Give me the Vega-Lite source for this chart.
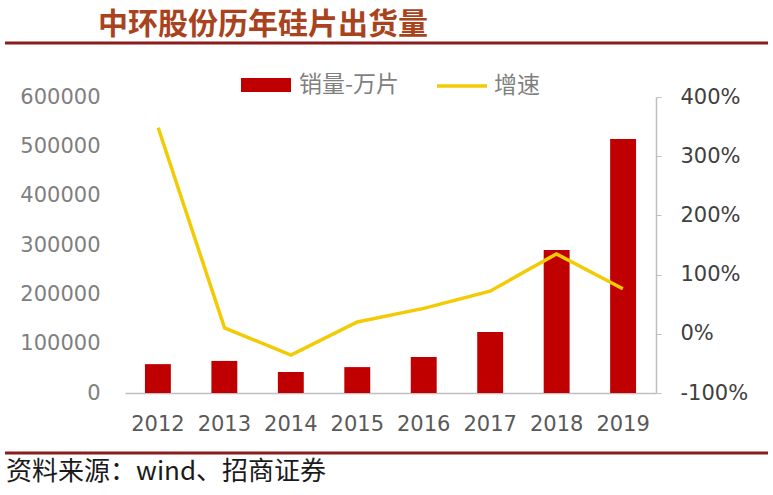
{
  "$schema": "https://vega.github.io/schema/vega-lite/v6.json",
  "width": 531,
  "height": 296,
  "autosize": {"type": "none"},
  "padding": {"left": 125, "top": 97, "right": 117, "bottom": 102},
  "background": "white",
  "config": {"view": {"stroke": null}, "font": "DejaVu Sans"},
  "data": {"values": [
    {"year": "2012", "sales": 58500, "growth": 3.48},
    {"year": "2013", "sales": 65000, "growth": 0.10},
    {"year": "2014", "sales": 42500, "growth": -0.36},
    {"year": "2015", "sales": 52500, "growth": 0.20},
    {"year": "2016", "sales": 73000, "growth": 0.43},
    {"year": "2017", "sales": 123500, "growth": 0.72},
    {"year": "2018", "sales": 290000, "growth": 1.35},
    {"year": "2019", "sales": 515000, "growth": 0.76}
  ]},
  "layer": [
    {
      "mark": {"type": "bar"},
      "encoding": {
        "x": {"field": "year", "type": "ordinal", "scale": {"paddingInner": 0.61, "paddingOuter": 0.3},
          "axis": {"title": null, "labelAngle": 0, "ticks": false, "domain": true, "domainColor": "#bfbfbf", "domainWidth": 1.5, "labelFontSize": 21, "labelColor": "#595959", "labelPadding": 20, "grid": false}},
        "y": {"field": "sales", "type": "quantitative", "scale": {"domain": [0, 600000], "nice": false},
          "axis": {"title": null, "values": [0, 100000, 200000, 300000, 400000, 500000, 600000], "format": "d", "ticks": false, "domain": false, "grid": false, "labelFontSize": 21, "labelColor": "#7f7f7f", "labelPadding": 25}},
        "color": {"datum": "销量-万片", "type": "nominal", "scale": {"range": ["#C00000"]},
          "legend": {"title": null, "orient": "none", "legendX": 115, "legendY": -38, "padding": 0, "symbolType": "M-1,-0.28H1V0.28H-1Z", "symbolSize": 2500, "symbolOpacity": 1, "labelOffset": 7, "labelFontSize": 23, "labelFont": "Noto Sans CJK SC", "labelColor": "#7f7f7f"}}
      }
    },
    {
      "mark": {"type": "line", "strokeWidth": 3.5},
      "encoding": {
        "x": {"field": "year", "type": "ordinal", "scale": {"paddingInner": 0.61, "paddingOuter": 0.3}, "axis": null},
        "y": {"field": "growth", "type": "quantitative", "scale": {"domain": [-1, 4], "nice": false, "zero": false},
          "axis": {"orient": "right", "title": null, "values": [-1, 0, 1, 2, 3, 4], "format": ".0%", "labelExpr": "replace(datum.label, '−', '-')", "grid": false, "domain": true, "domainColor": "#bfbfbf", "domainWidth": 1.5, "ticks": true, "tickColor": "#bfbfbf", "tickSize": 5, "labelPadding": 19, "labelFontSize": 21, "labelColor": "#404040"}},
        "stroke": {"datum": "增速", "type": "nominal", "scale": {"range": ["#F2CB05"]},
          "legend": {"title": null, "orient": "none", "legendX": 310, "legendY": -38, "padding": 0, "symbolType": "stroke", "symbolSize": 2500, "symbolStrokeWidth": 3.5, "labelOffset": 5, "labelFontSize": 23, "labelFont": "Noto Sans CJK SC", "labelColor": "#7f7f7f"}}
      }
    },
    {
      "data": {"values": [{}]},
      "layer": [
        {
          "mark": {"type": "rule", "color": "#8B1C1C", "strokeWidth": 3},
          "encoding": {
            "x": {"datum": -0.226, "type": "quantitative", "scale": {"domain": [0, 1], "nice": false, "zero": false}, "axis": null},
            "x2": {"datum": 1.211},
            "y": {"datum": 1.1824, "type": "quantitative", "scale": {"domain": [0, 1], "nice": false, "zero": false}, "axis": null}
          }
        },
        {
          "mark": {"type": "rule", "color": "#8B1C1C", "strokeWidth": 3},
          "encoding": {
            "x": {"datum": -0.226, "type": "quantitative"},
            "x2": {"datum": 1.211},
            "y": {"datum": -0.2027, "type": "quantitative"}
          }
        },
        {
          "mark": {"type": "text", "text": "中环股份历年硅片出货量", "align": "left", "baseline": "middle", "font": "Noto Sans CJK SC", "fontSize": 30, "fontWeight": "bold", "color": "#A8431E"},
          "encoding": {
            "x": {"datum": -0.051, "type": "quantitative"},
            "y": {"datum": 1.2432, "type": "quantitative"}
          }
        },
        {
          "mark": {"type": "text", "text": "资料来源：wind、招商证券", "align": "left", "baseline": "middle", "font": "Noto Sans CJK SC", "fontSize": 26, "color": "#1a1a1a"},
          "encoding": {
            "x": {"datum": -0.224, "type": "quantitative"},
            "y": {"datum": -0.2669, "type": "quantitative"}
          }
        }
      ]
    }
  ],
  "resolve": {"scale": {"x": "independent", "y": "independent", "color": "independent", "stroke": "independent"}}
}
